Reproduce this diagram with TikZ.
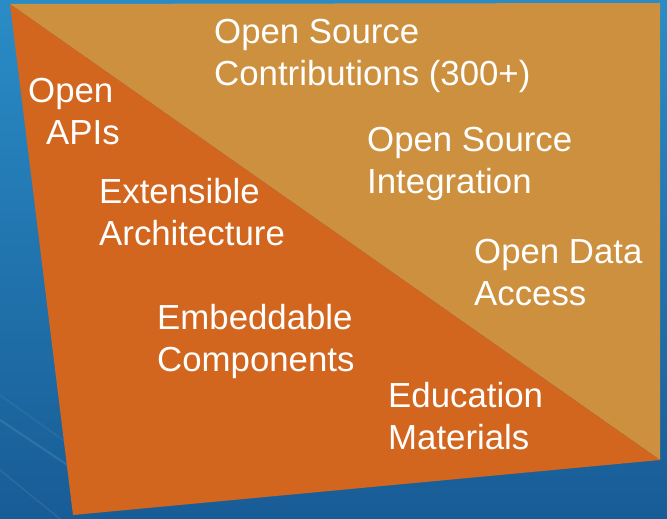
\documentclass[tikz,border=0pt]{standalone}
\usepackage{fontspec}
\setmainfont{Liberation Sans}
\usepackage{xcolor}
\usetikzlibrary{positioning}
\definecolor{bgtop}{RGB}{42,140,198}
\definecolor{bgbot}{RGB}{24,92,150}
\definecolor{orng}{RGB}{210,102,30}
\definecolor{sand}{RGB}{205,144,62}

\begin{document}
\begin{tikzpicture}[x=1pt,y=-1pt]
\tikzstyle{every node}+=[inner sep=0pt]
\tikzstyle{lbl}=[anchor=base west,align=left,text=white,font=\fontsize{34.8}{41.5}\selectfont]
\useasboundingbox (0,0) rectangle (667,519);
\shade [top color=bgtop,bottom color=bgbot] (0,0) rectangle (667,519);
\draw [white,opacity=0.1,line width=2pt] (0,420) -- (75,470);
\draw [white,opacity=0.08,line width=1.5pt] (0,470) -- (60,519);
\draw [white,opacity=0.06,line width=1.5pt] (0,395) -- (70,445);
\coordinate (tl) at (10,4);
\coordinate (tr) at (660,3);
\coordinate (br) at (660,460);
\coordinate (bl) at (73,515);
\fill [sand] (tl) -- (tr) -- (br) -- cycle;
\fill [orng] (tl) -- (br) -- (bl) -- cycle;
% second line baselines
\node [lbl] (contrib) at (214,85) {Open Source\\Contributions (300+)};
\node [lbl] (apis) at (28,144) {Open\\\hspace*{18pt}APIs};
\node [lbl] (extens) at (99,245) {Extensible\\Architecture};
\node [lbl] (integr) at (367,193) {Open Source\\Integration};
\node [lbl] (access) at (474,305) {Open Data\\Access};
\node [lbl] (embed) at (157,371) {Embeddable\\Components};
\node [lbl] (educ) at (388,449) {Education\\Materials};
\end{tikzpicture}
\end{document}
